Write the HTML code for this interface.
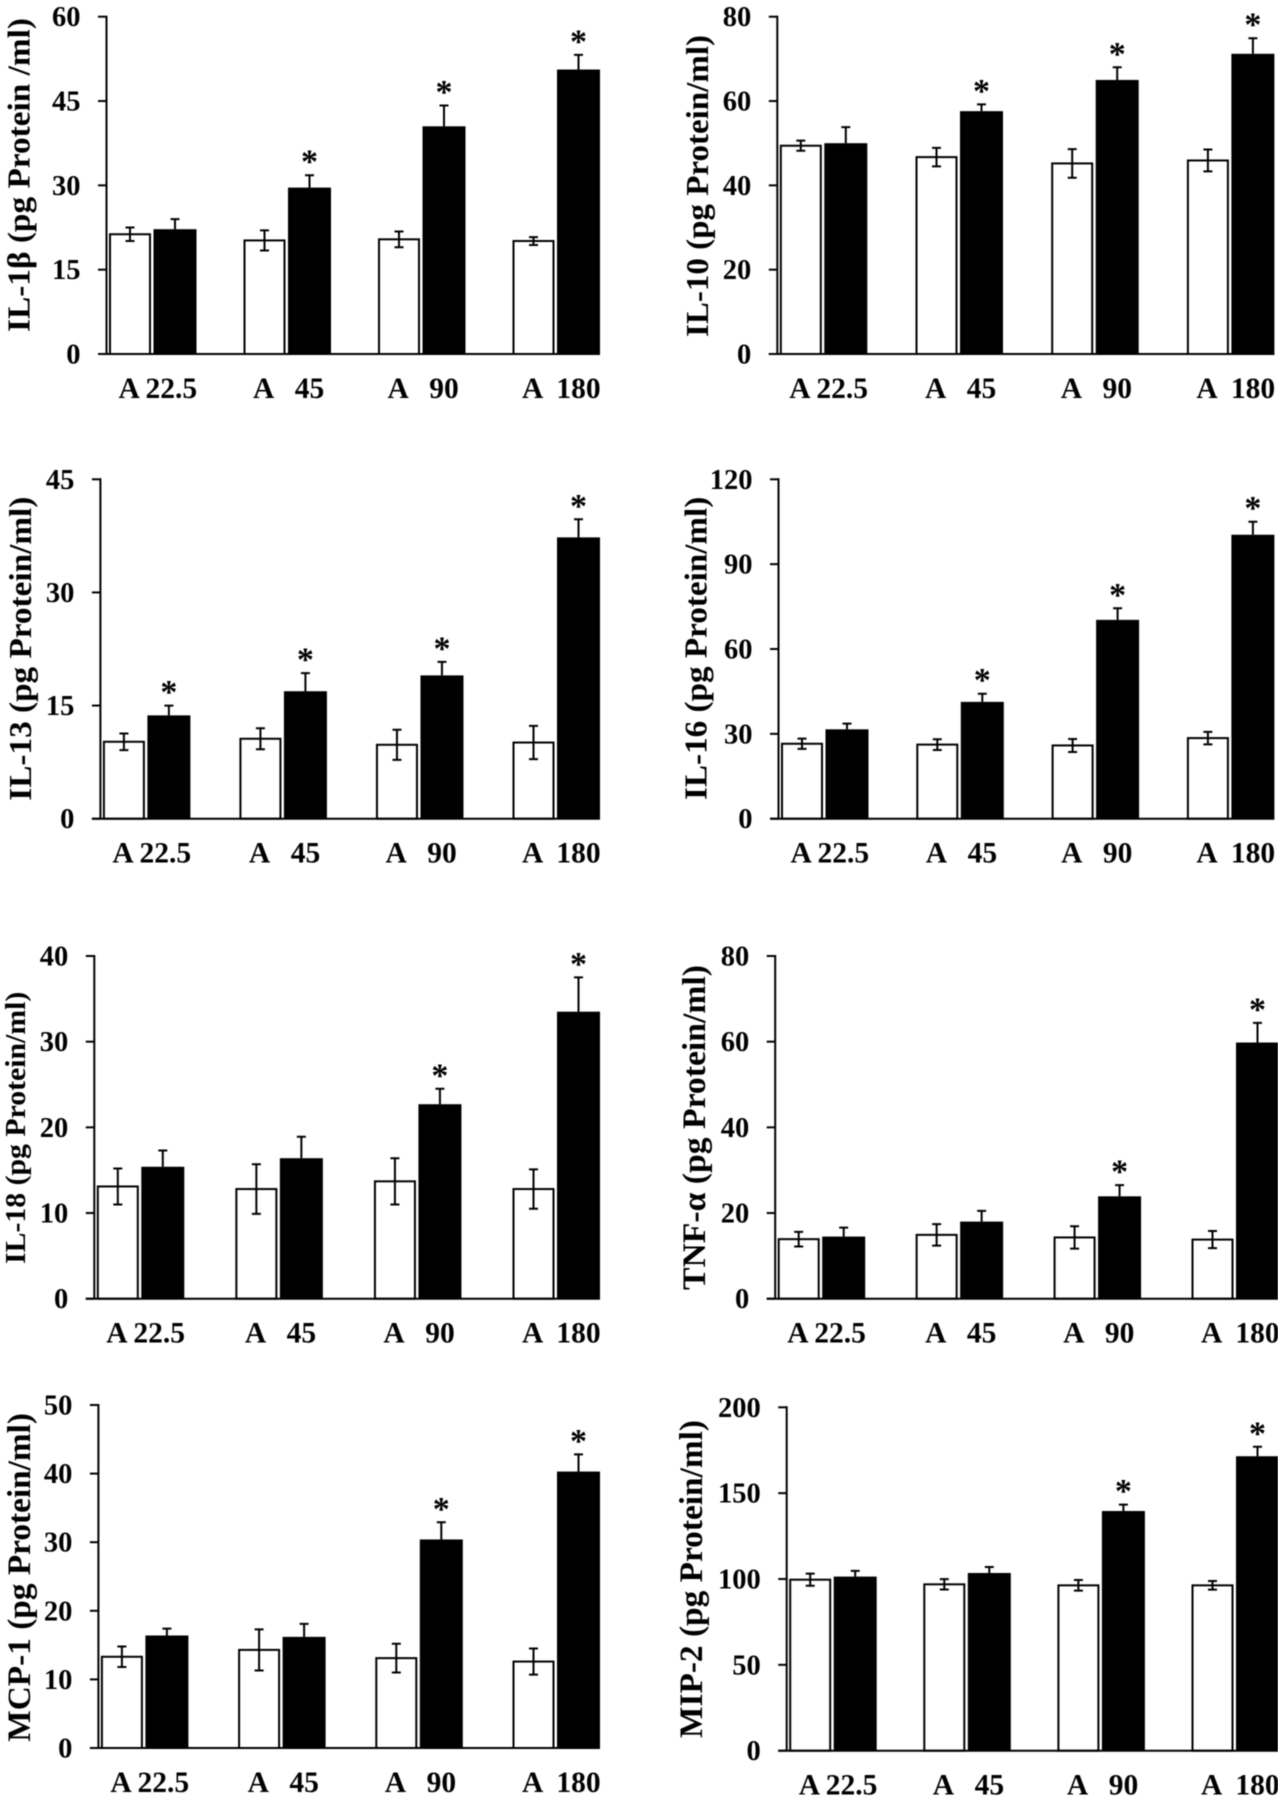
<!DOCTYPE html>
<html lang="en">
<head>
<meta charset="utf-8">
<title>Cytokine levels by dose</title>
<style>
  html, body { margin: 0; padding: 0; background: #fff; }
  svg { display: block; filter: blur(0.4px); }
  text { font-family: "Liberation Serif", "DejaVu Serif", serif; font-weight: bold; fill: #000; white-space: pre; }
</style>
</head>
<body>
<svg id="figure" xmlns="http://www.w3.org/2000/svg" width="1278" height="1800" viewBox="0 0 1278 1800"></svg>
<script>
const categories = ["A 22.5", "A   45", "A   90", "A  180"];

const il1bTicks = [0, 15, 30, 45, 60];
const il1bControl = [21.3, 20.2, 20.4, 20.1];
const il1bControlErr = [1.2, 1.8, 1.4, 0.7];
const il1bTreated = [22.2, 29.6, 40.5, 50.6];
const il1bTreatedErr = [1.8, 2.2, 3.7, 2.6];
const il1bStars = [false, true, true, true];

const il10Ticks = [0, 20, 40, 60, 80];
const il10Control = [49.4, 46.7, 45.2, 45.9];
const il10ControlErr = [1.2, 2.2, 3.4, 2.6];
const il10Treated = [50, 57.6, 65, 71.2];
const il10TreatedErr = [3.8, 1.6, 3, 3.7];
const il10Stars = [false, true, true, true];

const il13Ticks = [0, 15, 30, 45];
const il13Control = [10.2, 10.6, 9.8, 10.1];
const il13ControlErr = [1.1, 1.4, 2, 2.2];
const il13Treated = [13.7, 16.9, 19, 37.3];
const il13TreatedErr = [1.3, 2.4, 1.8, 2.4];
const il13Stars = [true, true, true, true];

const il16Ticks = [0, 30, 60, 90, 120];
const il16Control = [26.5, 26.2, 25.9, 28.5];
const il16ControlErr = [1.8, 1.9, 2.3, 2.2];
const il16Treated = [31.6, 41.3, 70.3, 100.4];
const il16TreatedErr = [2, 2.9, 4.1, 4.6];
const il16Stars = [false, true, true, true];

const il18Ticks = [0, 10, 20, 30, 40];
const il18Control = [13.1, 12.8, 13.7, 12.8];
const il18ControlErr = [2.1, 2.9, 2.7, 2.3];
const il18Treated = [15.4, 16.4, 22.7, 33.5];
const il18TreatedErr = [1.9, 2.5, 1.8, 4];
const il18Stars = [false, false, true, true];

const tnfTicks = [0, 20, 40, 60, 80];
const tnfControl = [13.9, 14.9, 14.3, 13.8];
const tnfControlErr = [1.7, 2.5, 2.6, 2];
const tnfTreated = [14.5, 18, 23.9, 59.8];
const tnfTreatedErr = [2.1, 2.5, 2.6, 4.6];
const tnfStars = [false, false, true, true];

const mcpTicks = [0, 10, 20, 30, 40, 50];
const mcpControl = [13.3, 14.3, 13.1, 12.6];
const mcpControlErr = [1.5, 3, 2.1, 1.9];
const mcpTreated = [16.4, 16.2, 30.4, 40.3];
const mcpTreatedErr = [1, 1.9, 2.5, 2.5];
const mcpStars = [false, false, true, true];

const mipTicks = [0, 50, 100, 150, 200];
const mipControl = [99.6, 96.9, 96.3, 96.3];
const mipControlErr = [3.5, 3, 3.1, 2.5];
const mipTreated = [101.4, 103.5, 139.6, 171.5];
const mipTreatedErr = [3.3, 3.5, 3.7, 5.5];
const mipStars = [false, false, true, true];

const NS = "http://www.w3.org/2000/svg";
const svg = document.getElementById("figure");

function make(parent, tag, attrs, content) {
  const e = document.createElementNS(NS, tag);
  for (const k in attrs) e.setAttribute(k, attrs[k]);
  if (content !== undefined) e.textContent = content;
  parent.appendChild(e);
  return e;
}

function drawPanel(cfg) {
  const g = make(svg, "g", {});
  
  

  const axisMax = cfg.ticks[cfg.ticks.length - 1];
  const yOf = v => cfg.bottom - (v / axisMax) * (cfg.bottom - cfg.top);
  const period = (cfg.right - cfg.left - 90) / 3;
  const controlX = i => cfg.left + 2.5 + i * period;
  const treatedX = i => controlX(i) + 44.5;
  const barW = 42;
  const treatedW = 43;

  categories.forEach((label, i) => {
    const cx = controlX(i);
    const cTop = yOf(cfg.control[i]);
    const cBar = make(g, "rect", { x: cx + 1, y: cTop, width: barW - 2, height: cfg.bottom - cTop, fill: "#fff", stroke: "#000", "stroke-width": 2 });
    
    

    const cMid = cx + barW / 2;
    const cHi = yOf(cfg.control[i] + cfg.controlErr[i]);
    const cLo = yOf(cfg.control[i] - cfg.controlErr[i]);
    const cErr = make(g, "path", {
      d: `M${cMid} ${cHi}V${cLo}M${cMid - 4.5} ${cHi}H${cMid + 4.5}M${cMid - 4.5} ${cLo}H${cMid + 4.5}`,
      fill: "none", stroke: "#000", "stroke-width": 2
    });
    
    

    const tx = treatedX(i);
    const tTop = yOf(cfg.treated[i]);
    const tBar = make(g, "rect", { x: tx, y: tTop, width: treatedW, height: cfg.bottom - tTop, fill: "#000" });
    
    

    const tMid = tx + treatedW / 2;
    const tHi = yOf(cfg.treated[i] + cfg.treatedErr[i]);
    const tErr = make(g, "path", {
      d: `M${tMid} ${tHi}V${tTop}M${tMid - 4.5} ${tHi}H${tMid + 4.5}`,
      fill: "none", stroke: "#000", "stroke-width": 2
    });
    
    

    if (cfg.stars[i]) {
      const star = make(g, "text", { x: tMid, y: tHi - 2.5, "text-anchor": "middle", "font-size": 34 }, "*");
      
      
    }

    const xLabel = make(g, "text", { x: cx + 9.5, y: cfg.bottom + 44, "font-size": 29.5 }, label);
    
    
  });

  const yAxis = make(g, "line", { x1: cfg.left, x2: cfg.left, y1: cfg.top - 1, y2: cfg.bottom, stroke: "#000", "stroke-width": 2 });
  
  

  const xAxis = make(g, "line", { x1: cfg.left - 8.5, x2: cfg.right, y1: cfg.bottom, y2: cfg.bottom, stroke: "#000", "stroke-width": 2 });
  
  

  cfg.ticks.forEach(t => {
    const ty = yOf(t);
    const tick = make(g, "line", { x1: cfg.left - 8.5, x2: cfg.left, y1: ty, y2: ty, stroke: "#000", "stroke-width": 2 });
    
    

    const tl = make(g, "text", { x: cfg.left - 26, y: ty + 9.5, "text-anchor": "end", "font-size": 28.5 }, String(t));
    
    
  });

  const mid = (cfg.titleTop + cfg.titleBottom) / 2;
  const title = make(g, "text", {
    transform: `translate(${cfg.titleX} ${mid}) rotate(-90)`,
    "text-anchor": "middle", "font-size": cfg.titleSize,
    textLength: cfg.titleBottom - cfg.titleTop, lengthAdjust: "spacingAndGlyphs"
  }, cfg.title);
  
  
}

drawPanel({ id: "il-1b", title: "IL-1β (pg Protein /ml)", left: 106.5, right: 600, top: 16.7, bottom: 354, titleX: 29.5, titleSize: 32, titleTop: 18, titleBottom: 332,
  ticks: il1bTicks, control: il1bControl, controlErr: il1bControlErr, treated: il1bTreated, treatedErr: il1bTreatedErr, stars: il1bStars });
drawPanel({ id: "il-10", title: "IL-10 (pg Protein/ml)", left: 777.3, right: 1274.4, top: 16.7, bottom: 354, titleX: 708, titleSize: 32, titleTop: 35, titleBottom: 337,
  ticks: il10Ticks, control: il10Control, controlErr: il10ControlErr, treated: il10Treated, treatedErr: il10TreatedErr, stars: il10Stars });
drawPanel({ id: "il-13", title: "IL-13 (pg Protein/ml)", left: 100.4, right: 600, top: 479.3, bottom: 818.7, titleX: 31, titleSize: 32, titleTop: 496.7, titleBottom: 800.7,
  ticks: il13Ticks, control: il13Control, controlErr: il13ControlErr, treated: il13Treated, treatedErr: il13TreatedErr, stars: il13Stars });
drawPanel({ id: "il-16", title: "IL-16 (pg Protein/ml)", left: 778.5, right: 1274.4, top: 479.3, bottom: 818.7, titleX: 706.5, titleSize: 32, titleTop: 496.7, titleBottom: 800,
  ticks: il16Ticks, control: il16Control, controlErr: il16ControlErr, treated: il16Treated, treatedErr: il16TreatedErr, stars: il16Stars });
drawPanel({ id: "il-18", title: "IL-18 (pg Protein/ml)", left: 94.3, right: 600, top: 956, bottom: 1298.7, titleX: 25, titleSize: 29, titleTop: 991.7, titleBottom: 1264,
  ticks: il18Ticks, control: il18Control, controlErr: il18ControlErr, treated: il18Treated, treatedErr: il18TreatedErr, stars: il18Stars });
drawPanel({ id: "tnf-a", title: "TNF-α (pg Protein/ml)", left: 775.2, right: 1279, top: 956, bottom: 1298.7, titleX: 705, titleSize: 33, titleTop: 965, titleBottom: 1290,
  ticks: tnfTicks, control: tnfControl, controlErr: tnfControlErr, treated: tnfTreated, treatedErr: tnfTreatedErr, stars: tnfStars });
drawPanel({ id: "mcp-1", title: "MCP-1 (pg Protein/ml)", left: 98.4, right: 600, top: 1405, bottom: 1748, titleX: 30, titleSize: 33, titleTop: 1413, titleBottom: 1741.7,
  ticks: mcpTicks, control: mcpControl, controlErr: mcpControlErr, treated: mcpTreated, treatedErr: mcpTreatedErr, stars: mcpStars });
drawPanel({ id: "mip-2", title: "MIP-2 (pg Protein/ml)", left: 786.7, right: 1279, top: 1407.3, bottom: 1750.7, titleX: 702, titleSize: 33, titleTop: 1420, titleBottom: 1738,
  ticks: mipTicks, control: mipControl, controlErr: mipControlErr, treated: mipTreated, treatedErr: mipTreatedErr, stars: mipStars });
</script>
</body>
</html>
